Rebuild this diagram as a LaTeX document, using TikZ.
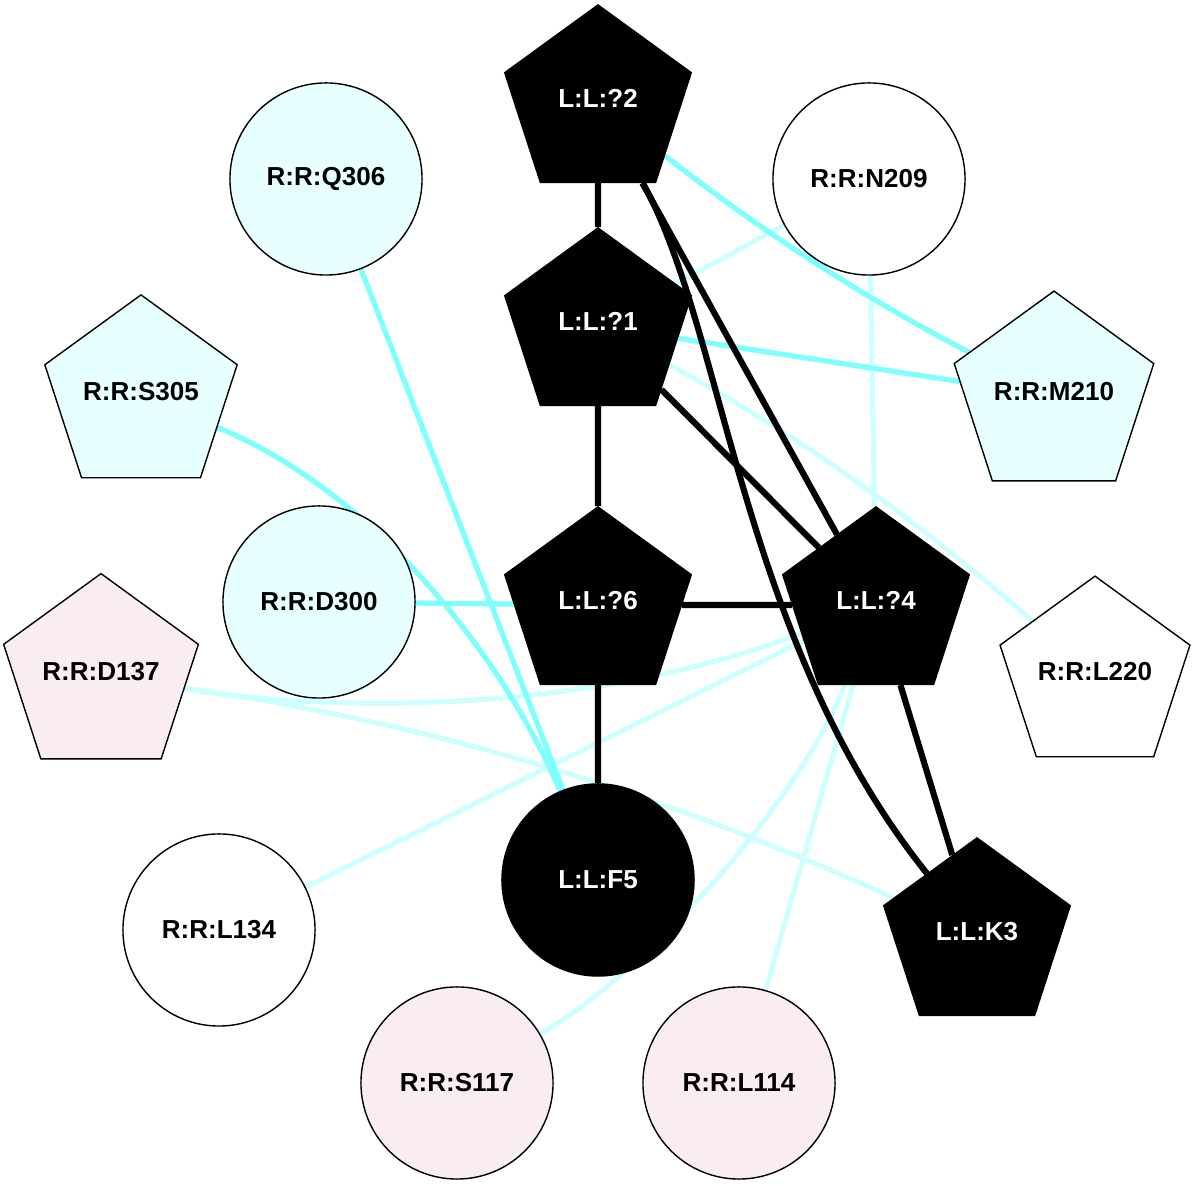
\documentclass[tikz,border=0pt]{standalone}
\usepackage{fontspec}
\setmainfont{Liberation Sans}
\usepackage{tikz}
\usetikzlibrary{shapes.geometric,backgrounds}
\definecolor{hicyan}{HTML}{80FFFF}
\definecolor{locyan}{HTML}{CCFFFF}
\definecolor{rescyan}{HTML}{E8FFFF}
\definecolor{respink}{HTML}{F9ECF3}

\begin{document}
\begin{tikzpicture}[x=0.01cm,y=-0.01cm,
    base/.style={draw=black,line width=0.4pt,inner sep=0pt,font=\bfseries\fontsize{7.4}{9}\selectfont},
    lig/.style={base,fill=black,text=white},
    res/.style={base,text=black},
    pent/.style={regular polygon,regular polygon sides=5,minimum size=1.96cm,text depth=0.09cm},
    circ/.style={circle,minimum size=1.92cm},
    bond/.style={draw=black,line width=1.75pt},
    hi/.style={draw=hicyan,line width=1.5pt},
    lo/.style={draw=locyan,line width=1.4pt}]
    \useasboundingbox (0,0) rectangle (1196,1186);
    % ligand
    \node[lig,pent] (l2) at (598,103) {L:L:?2};
    \node[lig,pent] (l1) at (598,326) {L:L:?1};
    \node[lig,pent] (l6) at (598,605) {L:L:?6};
    \node[lig,pent] (l4) at (876,605) {L:L:?4};
    \node[lig,pent] (k3) at (977,936) {L:L:K3};
    \node[lig,circ] (f5) at (598,880) {L:L:F5};
    % receptor
    \node[res,circ,fill=rescyan] (q306) at (326,179) {R:R:Q306};
    \node[res,circ,fill=white] (n209) at (869,179) {R:R:N209};
    \node[res,pent,fill=rescyan] (s305) at (141,396) {R:R:S305};
    \node[res,pent,fill=rescyan] (m210) at (1054,396) {R:R:M210};
    \node[res,circ,fill=rescyan] (d300) at (319,602) {R:R:D300};
    \node[res,pent,fill=respink] (d137) at (101,676) {R:R:D137};
    \node[res,pent,fill=white] (l220) at (1095,676) {R:R:L220};
    \node[res,circ,fill=white] (l134) at (219,930) {R:R:L134};
    \node[res,circ,fill=respink] (s117) at (457,1083) {R:R:S117};
    \node[res,circ,fill=respink] (l114) at (739,1083) {R:R:L114};
    \begin{scope}[on background layer]
        % weak contacts
        \draw[lo] (n209) -- (l1);
        \draw[lo] (n209) -- (l4);
        \draw[lo] (l1) .. controls (791,431) and (912,515) .. (l220);
        \draw[lo] (d137) .. controls (350,715) and (600,710) .. (l4);
        \draw[lo] (d137) .. controls (416,721) and (648,786) .. (k3);
        \draw[lo] (l134) -- (l4);
        \draw[lo] (s117) .. controls (650,970) and (800,800) .. (l4);
        \draw[lo] (l114) -- (l4);
        % strong contacts
        \draw[hi] (q306) -- (f5);
        \draw[hi] (s305) .. controls (370,490) and (500,650) .. (f5);
        \draw[hi] (d300) -- (l6);
        \draw[hi] (l2) .. controls (757,228) and (862,297) .. (m210);
        \draw[hi] (l1) -- (m210);
        % ligand bonds
        \draw[bond] (l2) -- (l1);
        \draw[bond] (l1) -- (l6);
        \draw[bond] (l6) -- (f5);
        \draw[bond] (l6) -- (l4);
        \draw[bond] (l2) -- (l4);
        \draw[bond] (l1) -- (l4);
        \draw[bond] (l4) -- (k3);
        \draw[bond] (l2) .. controls (725,330) and (740,640) .. (k3);
    \end{scope}
\end{tikzpicture}
\end{document}
